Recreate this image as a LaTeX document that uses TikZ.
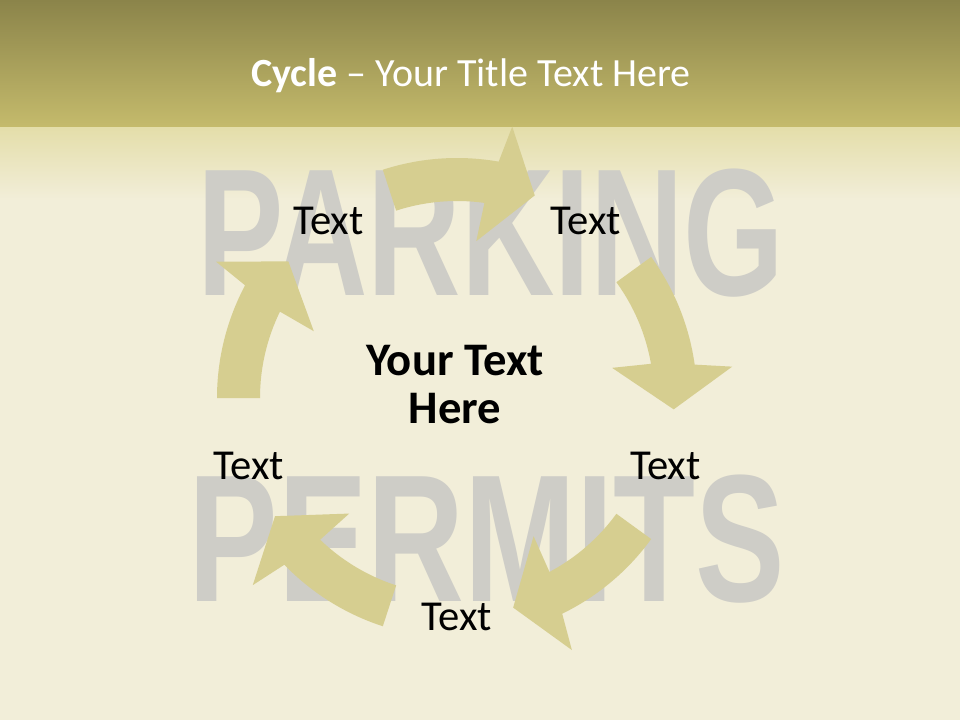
\documentclass[tikz,border=0pt]{standalone}
\usepackage{fontspec}
\setmainfont{Carlito}
\newfontfamily\stencilfont{Liberation Sans}
\definecolor{bandtop}{RGB}{139,132,74}
\definecolor{bandbottom}{RGB}{197,187,108}
\definecolor{paper}{RGB}{242,238,217}
\definecolor{paperglow}{RGB}{228,222,170}
\definecolor{stencilgray}{RGB}{206,205,199}
\definecolor{arrowfill}{RGB}{214,206,144}
\tikzset{
  steplabel/.style={font=\fontsize{32}{36}\selectfont,text=black},
  cyclearrow/.style={fill=arrowfill},
  stencil/.style={font=\stencilfont\fontsize{136}{140}\selectfont\bfseries,
    text=stencilgray,anchor=base,transform shape}
}

\begin{document}
\begin{tikzpicture}[x=0.75pt,y=-0.75pt]
    \useasboundingbox (0,0) rectangle (960,720);
    % paper and title band
    \fill[paper] (0,0) rectangle (960,720);
    \shade[top color=bandtop,bottom color=bandbottom] (0,0) rectangle (960,128);
    \shade[top color=paperglow,bottom color=paper] (0,128) rectangle (960,200);
    % faded stencil in the back
    \node[stencil,xscale=0.714] (parking) at (491,296) {PARKING};
    \node[stencil,xscale=0.74] (permits) at (487,601) {PERMITS};
    \node[anchor=base,text=white,font=\fontsize{30}{34}\selectfont]
      (title) at (471,87) {\textbf{Cycle} -- Your Title Text Here};
    % the cycle
    \begin{scope}[shift={(457,398)},y=0.75pt]
      \foreach \a in {90,18,-54,-126,-198}{
        \fill[cyclearrow] (\a+18:197)
          arc[start angle=\a+18,end angle=\a-8,radius=197]
          -- (\a-7:158) -- (\a-21:217) -- (\a-11.5:277) -- (\a-10:240)
          arc[start angle=\a-10,end angle=\a+18,radius=240] -- cycle;
      }
      \node[steplabel] (stepa) at (126:219) {Text};
      \node[steplabel] (stepb) at (54:219) {Text};
      \node[steplabel] (stepc) at (-18:219) {Text};
      \node[steplabel] (stepd) at (-90:219) {Text};
      \node[steplabel] (stepe) at (198:219) {Text};
    \end{scope}
    \node[align=center,font=\fontsize{35}{36}\selectfont\bfseries]
      (hub) at (455,385) {Your Text\\Here};
  \end{tikzpicture}
\end{document}
